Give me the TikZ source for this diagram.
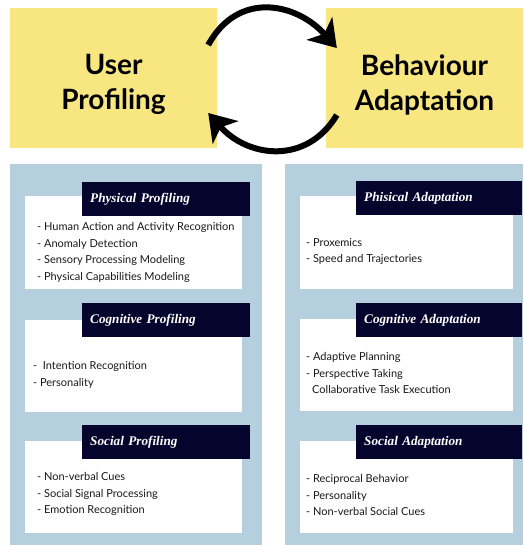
\documentclass[tikz,border=0pt]{standalone}
\usepackage{fontspec}
\setmainfont{Lato}
\newfontfamily\headfont{Liberation Serif}
\usetikzlibrary{arrows.meta,positioning}
\definecolor{profyellow}{HTML}{F8E681}
\definecolor{panelblue}{HTML}{B6CFDF}
\definecolor{titlenavy}{HTML}{04042C}

\begin{document}
\begin{tikzpicture}[x=1pt,y=-1pt,
	bigbox/.style={fill=profyellow, minimum height=140pt, align=center, font=\fontsize{28}{35}\selectfont\bfseries},
	listbox/.style={fill=white, inner sep=0pt, minimum height=92pt},
	headbox/.style={fill=titlenavy, text=white, anchor=north west, minimum height=34pt, inner xsep=8pt, align=left, font=\headfont\bfseries\itshape\fontsize{13.2}{15}\selectfont},
	items/.style={anchor=north west, inner sep=0pt, align=left, text=black!90, font=\fontsize{11}{16.5}\selectfont},
	cycle/.style={line width=6pt, -{Stealth[length=26pt,width=34pt,inset=7pt]}}
	]
	\useasboundingbox (0,0) rectangle (523,545);

	% top: the two yellow blocks and the loop
	\node[bigbox, minimum width=207pt] (user) at (113.5,78) {\rule{0pt}{34pt}User\\Profiling};
	\node[bigbox, minimum width=197pt] (behav) at (424.5,78) {\rule{0pt}{34pt}Behaviour\\Adaptation};
	\draw[cycle] ([xshift=-9pt,yshift=33pt]user.east) .. controls +(30,-55) and +(-40,-45) .. ([xshift=11pt,yshift=30pt]behav.west);
	\draw[cycle] ([xshift=11pt,yshift=-37pt]behav.west) .. controls +(-30,50) and +(40,45) .. ([xshift=-9pt,yshift=-35pt]user.east);

	% blue panels
	\fill[panelblue] (10,164) rectangle (262,545);
	\fill[panelblue] (285,164) rectangle (523,545);

	% left column
	\node[listbox, minimum width=217pt] (pp) at (133.5,242.5) {};
	\node[headbox, text width=152pt] (pphead) at (82,182) {Physical Profiling};
	\node[items] (ppitems) at (37,222.5) {- Human Action and Activity Recognition\\- Anomaly Detection\\- Sensory Processing Modeling\\- Physical Capabilities Modeling};

	\node[listbox, minimum width=217pt] (cp) at (133.5,365.5) {};
	\node[headbox, text width=152pt] (cphead) at (82,303) {Cognitive Profiling};
	\node[items] (cpitems) at (33,361.5) {- \ Intention Recognition\\- Personality};

	\node[listbox, minimum width=217pt] (sp) at (133.5,487) {};
	\node[headbox, text width=152pt] (sphead) at (82,425) {Social Profiling};
	\node[items] (spitems) at (37,472.5) {- Non-verbal Cues\\- Social Signal Processing\\- Emotion Recognition};

	% right column
	\node[listbox, minimum width=213pt] (pa) at (406.5,242.5) {};
	\node[headbox, text width=150pt] (pahead) at (356,181) {Phisical Adaptation};
	\node[items] (paitems) at (306,238) {- Proxemics\\- Speed and Trajectories};

	\node[listbox, minimum width=213pt] (ca) at (406.5,364.5) {};
	\node[headbox, text width=150pt] (cahead) at (356,303) {Cognitive Adaptation};
	\node[items] (caitems) at (306,352.5) {- Adaptive Planning\\- Perspective Taking\\\hspace*{6pt}Collaborative Task Execution};

	\node[listbox, minimum width=213pt] (sa) at (406.5,486.5) {};
	\node[headbox, text width=150pt] (sahead) at (356,425) {Social Adaptation};
	\node[items] (saitems) at (306,474.5) {- Reciprocal Behavior\\- Personality\\- Non-verbal Social Cues};
\end{tikzpicture}
\end{document}
